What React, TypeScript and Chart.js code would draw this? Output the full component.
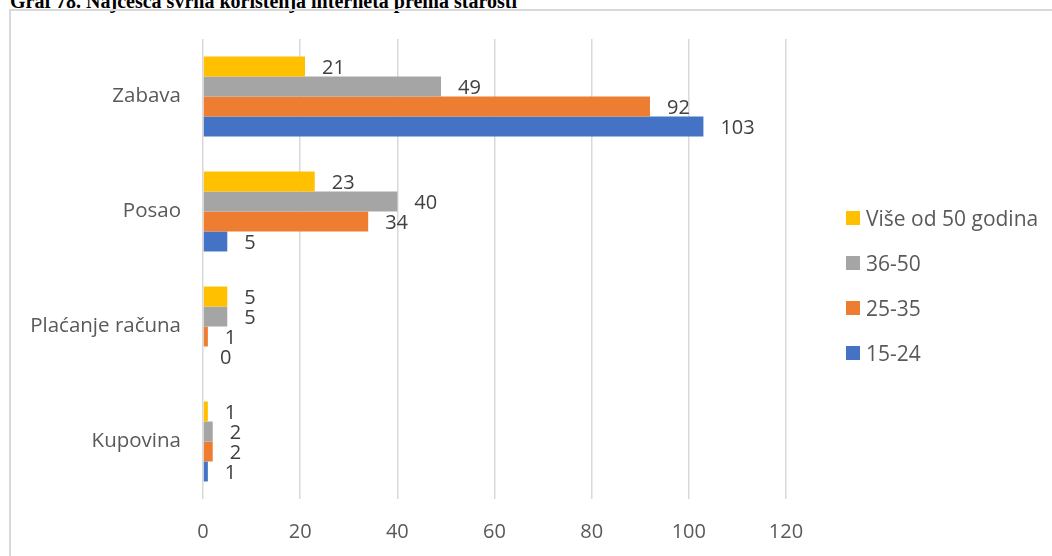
import React, { useEffect, useRef } from "react";
import { Chart, registerables } from "chart.js";

Chart.register(...registerables);

const categories = ["Zabava", "Posao", "Plaćanje računa", "Kupovina"];
const seriesNames = ["Više od 50 godina", "36-50", "25-35", "15-24"];
const seriesColors = ["#FFC000", "#A5A5A5", "#ED7D31", "#4472C4"];
const over50 = [21, 23, 5, 1];
const age36to50 = [49, 40, 5, 2];
const age25to35 = [92, 34, 1, 2];
const age15to24 = [103, 5, 0, 1];
const xTicks = [0, 20, 40, 60, 80, 100, 120];

const FONT = "'Open Sans', sans-serif";

const valueLabels = {
  id: "valueLabels",
  afterDatasetsDraw(chart: any) {
    const ctx = chart.ctx;
    ctx.save();
    ctx.font = `20px ${FONT}`;
    ctx.fillStyle = "#404040";
    ctx.textAlign = "left";
    ctx.textBaseline = "middle";
    chart.data.datasets.forEach((ds: any, i: number) => {
      const meta = chart.getDatasetMeta(i);
      meta.data.forEach((el: any, j: number) => {
        ctx.fillText(String(ds.data[j]), el.x + 17, el.y + 2);
      });
    });
    ctx.restore();
  },
};

export default function App() {
  const ref = useRef<HTMLCanvasElement | null>(null);
  useEffect(() => {
    document.body.style.margin = "0";
    const seriesData = [over50, age36to50, age25to35, age15to24];
    const chart = new Chart(ref.current!, {
      type: "bar",
      data: {
        labels: categories,
        datasets: seriesNames.map((name, i) => ({
          label: name,
          data: seriesData[i],
          backgroundColor: seriesColors[i],
          borderWidth: 0,
          categoryPercentage: 0.695,
          barPercentage: 1,
        })),
      },
      options: {
        indexAxis: "y",
        animation: false,
        responsive: false,
        maintainAspectRatio: false,
        layout: { padding: { left: 0, right: 266, top: 39, bottom: 0 } },
        plugins: { legend: { display: false }, tooltip: { enabled: false } },
        scales: {
          x: {
            min: 0,
            max: 120,
            afterBuildTicks: (scale: any) => {
              scale.ticks = xTicks.map((v) => ({ value: v }));
            },
            afterFit: (scale: any) => {
              scale.height = 57;
            },
            grid: { color: "#d9d9d9", lineWidth: 1.5, drawTicks: false, tickLength: 0 },
            border: { display: false },
            ticks: { color: "#595959", font: { family: FONT, size: 20 }, padding: 21 },
          },
          y: {
            afterFit: (scale: any) => {
              scale.width = 203;
            },
            grid: { display: false, drawTicks: false, tickLength: 0 },
            border: { display: false },
            ticks: { color: "#595959", font: { family: FONT, size: 20.5 }, padding: 22 },
          },
        },
      },
      plugins: [valueLabels],
    });
    return () => chart.destroy();
  }, []);

  const legendTops = [218, 263, 308, 353];

  return (
    <div style={{ position: "fixed", left: 0, top: 0, width: 1052, height: 556, overflow: "hidden", background: "#fff" }}>
      <div
        style={{
          position: "absolute",
          left: 10,
          top: -9,
          fontFamily: "'Liberation Serif', 'Times New Roman', serif",
          fontWeight: "bold",
          fontSize: 20,
          lineHeight: "20px",
          whiteSpace: "nowrap",
          color: "#000",
        }}
      >
        Graf 78. Najčešća svrha korištenja interneta prema starosti
      </div>
      <div
        style={{
          position: "absolute",
          left: 9,
          top: 9,
          width: 1100,
          height: 600,
          border: "2px solid #d9d9d9",
          boxSizing: "border-box",
        }}
      />
      <canvas ref={ref} width={1052} height={556} style={{ position: "absolute", left: 0, top: 0, width: 1052, height: 556 }} />
      {seriesNames.map((name, i) => (
        <div
          key={name}
          style={{
            position: "absolute",
            left: 846,
            top: legendTops[i] - 14,
            height: 28,
            display: "flex",
            alignItems: "center",
            fontFamily: FONT,
            fontSize: 21,
            color: "#595959",
            whiteSpace: "nowrap",
          }}
        >
          <span style={{ display: "inline-block", width: 14, height: 14, background: seriesColors[i], marginRight: 6 }} />
          <span>{name}</span>
        </div>
      ))}
    </div>
  );
}
